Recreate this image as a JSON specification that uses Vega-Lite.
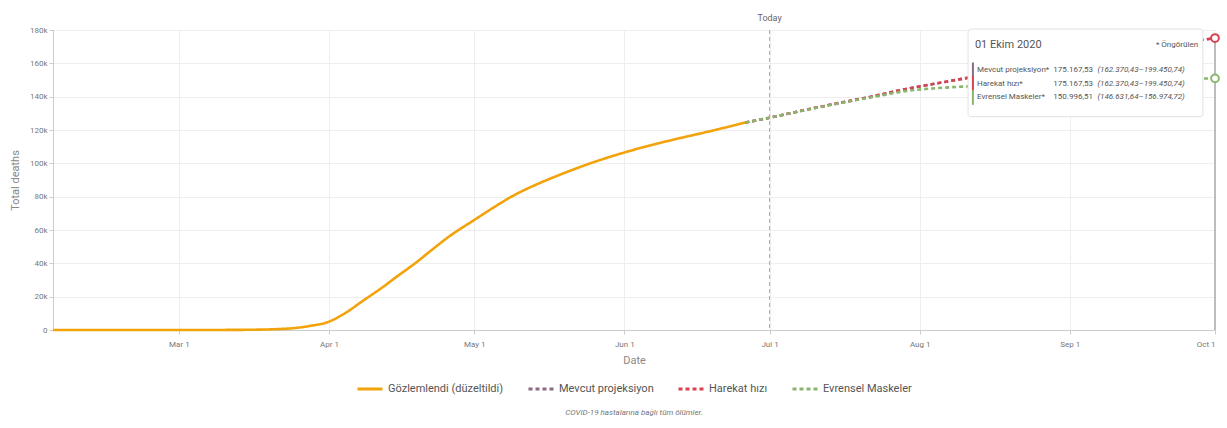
{
  "$schema": "https://vega.github.io/schema/vega-lite/v6.json",
  "width": 1162,
  "height": 300,
  "autosize": {"type": "none"},
  "padding": {"left": 53, "top": 30, "right": 12, "bottom": 98},
  "background": "white",
  "title": {"text": "COVID-19 hastalarına bağlı tüm ölümler.", "orient": "bottom", "anchor": "middle", "fontSize": 8, "fontStyle": "italic", "fontWeight": "normal", "color": "#777", "offset": 14, "font": "Roboto"},
  "config": {
    "font": "Roboto",
    "view": {"stroke": null},
    "axis": {"domainColor": "#ccc", "gridColor": "#eee", "tickColor": "#ccc", "labelColor": "#777", "labelFontSize": 8, "titleColor": "#888", "titleFontSize": 11, "titleFontWeight": "normal", "tickSize": 4, "labelOverlap": false},
    "axisY": {"tickCount": 10, "labelOverlap": false},
    "legend": {"layout": {"bottom": {"anchor": "middle"}}}
  },
  "datasets": {
    "one": [{}],
    "lines": [
      {"date": "2020-02-04", "deaths": 0, "series": "Gözlemlendi (düzeltildi)"},
      {"date": "2020-02-15", "deaths": 0, "series": "Gözlemlendi (düzeltildi)"},
      {"date": "2020-03-01", "deaths": 5, "series": "Gözlemlendi (düzeltildi)"},
      {"date": "2020-03-10", "deaths": 40, "series": "Gözlemlendi (düzeltildi)"},
      {"date": "2020-03-15", "deaths": 120, "series": "Gözlemlendi (düzeltildi)"},
      {"date": "2020-03-20", "deaths": 400, "series": "Gözlemlendi (düzeltildi)"},
      {"date": "2020-03-25", "deaths": 1200, "series": "Gözlemlendi (düzeltildi)"},
      {"date": "2020-03-28", "deaths": 2400, "series": "Gözlemlendi (düzeltildi)"},
      {"date": "2020-04-01", "deaths": 5000, "series": "Gözlemlendi (düzeltildi)"},
      {"date": "2020-04-04", "deaths": 9500, "series": "Gözlemlendi (düzeltildi)"},
      {"date": "2020-04-08", "deaths": 17500, "series": "Gözlemlendi (düzeltildi)"},
      {"date": "2020-04-12", "deaths": 25500, "series": "Gözlemlendi (düzeltildi)"},
      {"date": "2020-04-15", "deaths": 32000, "series": "Gözlemlendi (düzeltildi)"},
      {"date": "2020-04-19", "deaths": 40500, "series": "Gözlemlendi (düzeltildi)"},
      {"date": "2020-04-22", "deaths": 47500, "series": "Gözlemlendi (düzeltildi)"},
      {"date": "2020-04-26", "deaths": 56500, "series": "Gözlemlendi (düzeltildi)"},
      {"date": "2020-05-01", "deaths": 66000, "series": "Gözlemlendi (düzeltildi)"},
      {"date": "2020-05-05", "deaths": 73500, "series": "Gözlemlendi (düzeltildi)"},
      {"date": "2020-05-09", "deaths": 80500, "series": "Gözlemlendi (düzeltildi)"},
      {"date": "2020-05-14", "deaths": 87500, "series": "Gözlemlendi (düzeltildi)"},
      {"date": "2020-05-19", "deaths": 93500, "series": "Gözlemlendi (düzeltildi)"},
      {"date": "2020-05-24", "deaths": 99000, "series": "Gözlemlendi (düzeltildi)"},
      {"date": "2020-06-01", "deaths": 106500, "series": "Gözlemlendi (düzeltildi)"},
      {"date": "2020-06-06", "deaths": 110500, "series": "Gözlemlendi (düzeltildi)"},
      {"date": "2020-06-12", "deaths": 114800, "series": "Gözlemlendi (düzeltildi)"},
      {"date": "2020-06-18", "deaths": 118800, "series": "Gözlemlendi (düzeltildi)"},
      {"date": "2020-06-22", "deaths": 121600, "series": "Gözlemlendi (düzeltildi)"},
      {"date": "2020-06-26", "deaths": 124500, "series": "Gözlemlendi (düzeltildi)"},
      {"date": "2020-06-26", "deaths": 124500, "series": "Mevcut projeksiyon"},
      {"date": "2020-07-01", "deaths": 127400, "series": "Mevcut projeksiyon"},
      {"date": "2020-07-08", "deaths": 131800, "series": "Mevcut projeksiyon"},
      {"date": "2020-07-15", "deaths": 136000, "series": "Mevcut projeksiyon"},
      {"date": "2020-07-22", "deaths": 140000, "series": "Mevcut projeksiyon"},
      {"date": "2020-07-29", "deaths": 144500, "series": "Mevcut projeksiyon"},
      {"date": "2020-08-05", "deaths": 148200, "series": "Mevcut projeksiyon"},
      {"date": "2020-08-11", "deaths": 151300, "series": "Mevcut projeksiyon"},
      {"date": "2020-08-20", "deaths": 155500, "series": "Mevcut projeksiyon"},
      {"date": "2020-09-01", "deaths": 161500, "series": "Mevcut projeksiyon"},
      {"date": "2020-09-15", "deaths": 168200, "series": "Mevcut projeksiyon"},
      {"date": "2020-10-01", "deaths": 175168, "series": "Mevcut projeksiyon"},
      {"date": "2020-06-26", "deaths": 124500, "series": "Harekat hızı"},
      {"date": "2020-07-01", "deaths": 127400, "series": "Harekat hızı"},
      {"date": "2020-07-08", "deaths": 131800, "series": "Harekat hızı"},
      {"date": "2020-07-15", "deaths": 136000, "series": "Harekat hızı"},
      {"date": "2020-07-22", "deaths": 140000, "series": "Harekat hızı"},
      {"date": "2020-07-29", "deaths": 144500, "series": "Harekat hızı"},
      {"date": "2020-08-05", "deaths": 148200, "series": "Harekat hızı"},
      {"date": "2020-08-11", "deaths": 151300, "series": "Harekat hızı"},
      {"date": "2020-08-20", "deaths": 155500, "series": "Harekat hızı"},
      {"date": "2020-09-01", "deaths": 161500, "series": "Harekat hızı"},
      {"date": "2020-09-15", "deaths": 168200, "series": "Harekat hızı"},
      {"date": "2020-10-01", "deaths": 175168, "series": "Harekat hızı"},
      {"date": "2020-06-26", "deaths": 124500, "series": "Evrensel Maskeler"},
      {"date": "2020-07-01", "deaths": 127400, "series": "Evrensel Maskeler"},
      {"date": "2020-07-08", "deaths": 131700, "series": "Evrensel Maskeler"},
      {"date": "2020-07-15", "deaths": 135800, "series": "Evrensel Maskeler"},
      {"date": "2020-07-22", "deaths": 139600, "series": "Evrensel Maskeler"},
      {"date": "2020-07-29", "deaths": 143300, "series": "Evrensel Maskeler"},
      {"date": "2020-08-05", "deaths": 145200, "series": "Evrensel Maskeler"},
      {"date": "2020-08-11", "deaths": 146200, "series": "Evrensel Maskeler"},
      {"date": "2020-08-20", "deaths": 147500, "series": "Evrensel Maskeler"},
      {"date": "2020-09-01", "deaths": 148900, "series": "Evrensel Maskeler"},
      {"date": "2020-09-15", "deaths": 150100, "series": "Evrensel Maskeler"},
      {"date": "2020-10-01", "deaths": 150997, "series": "Evrensel Maskeler"}
    ]
  },
  "layer": [
    {
      "data": {"name": "lines"},
      "mark": {"type": "line", "strokeWidth": 2.6, "interpolate": "monotone"},
      "encoding": {
        "x": {"field": "date", "type": "temporal", "title": "Date",
          "scale": {"domain": [{"year": 2020, "month": 2, "date": 4}, {"year": 2020, "month": 10, "date": 1}]},
          "axis": {"format": "%b %-d", "values": [{"year": 2020, "month": 3, "date": 1}, {"year": 2020, "month": 4, "date": 1}, {"year": 2020, "month": 5, "date": 1}, {"year": 2020, "month": 6, "date": 1}, {"year": 2020, "month": 7, "date": 1}, {"year": 2020, "month": 8, "date": 1}, {"year": 2020, "month": 9, "date": 1}, {"year": 2020, "month": 10, "date": 1}], "labelPadding": 6, "titlePadding": 6}},
        "y": {"field": "deaths", "type": "quantitative", "title": "Total deaths",
          "scale": {"domain": [0, 180000], "nice": false},
          "axis": {"labelExpr": "datum.value == 0 ? '0' : (datum.value / 1000) + 'k'", "tickCount": 10, "values": [0, 20000, 40000, 60000, 80000, 100000, 120000, 140000, 160000, 180000], "titlePadding": 9}},
        "color": {"field": "series", "type": "nominal", "title": null,
          "scale": {"domain": ["Gözlemlendi (düzeltildi)", "Mevcut projeksiyon", "Harekat hızı", "Evrensel Maskeler"], "range": ["#f2a20a", "#8c6a82", "#d9424f", "#8ab56d"]},
          "legend": {"orient": "bottom", "direction": "horizontal", "symbolType": "stroke", "symbolStrokeWidth": 3, "symbolSize": 625, "labelFontSize": 11, "labelColor": "#555", "columnPadding": 18, "offset": 10, "labelFont": "Roboto"}},
        "strokeDash": {"field": "series", "type": "nominal", "title": null,
          "scale": {"domain": ["Gözlemlendi (düzeltildi)", "Mevcut projeksiyon", "Harekat hızı", "Evrensel Maskeler"], "range": [[1, 0], [4, 3], [4, 3], [4, 3]]}}
      }
    },
    {
      "data": {"name": "one"},
      "mark": {"type": "rule", "color": "#aaa", "strokeDash": [4, 3], "strokeWidth": 1},
      "encoding": {"x": {"datum": {"year": 2020, "month": 7, "date": 1}, "type": "temporal"}}
    },
    {
      "data": {"name": "one"},
      "mark": {"type": "text", "text": "Today", "fontSize": 9, "color": "#666", "baseline": "middle", "align": "center"},
      "encoding": {"x": {"datum": {"year": 2020, "month": 7, "date": 1}, "type": "temporal"}, "y": {"datum": 187500, "type": "quantitative"}}
    },
    {
      "data": {"name": "one"},
      "mark": {"type": "rule", "color": "#aaa", "strokeWidth": 1.5},
      "encoding": {"x": {"datum": {"year": 2020, "month": 10, "date": 1}, "type": "temporal"}, "y": {"datum": 0, "type": "quantitative"}, "y2": {"datum": 175168}}
    },
    {
      "data": {"name": "one"},
      "mark": {"type": "rect", "fill": "white", "stroke": "#e2e2e2", "strokeWidth": 1, "cornerRadius": 3},
      "encoding": {
        "x": {"datum": {"year": 2020, "month": 8, "date": 11}, "type": "temporal"},
        "x2": {"datum": {"year": 2020, "month": 9, "date": 28, "hours": 12}},
        "y": {"datum": 180600, "type": "quantitative"},
        "y2": {"datum": 128000}
      }
    },
    {
      "data": {"name": "one"},
      "mark": {"type": "text", "text": "01 Ekim 2020", "fontSize": 11, "color": "#555", "align": "left", "baseline": "middle"},
      "encoding": {"x": {"datum": {"year": 2020, "month": 8, "date": 12, "hours": 10}, "type": "temporal"}, "y": {"datum": 171000, "type": "quantitative"}}
    },
    {
      "data": {"name": "one"},
      "mark": {"type": "text", "text": "* Öngörülen", "fontSize": 8, "color": "#555", "align": "right", "baseline": "middle"},
      "encoding": {"x": {"datum": {"year": 2020, "month": 9, "date": 27, "hours": 12}, "type": "temporal"}, "y": {"datum": 171000, "type": "quantitative"}}
    },
    {
      "data": {"name": "one"},
      "mark": {"type": "rule", "color": "#8c6a82", "strokeWidth": 2},
      "encoding": {"x": {"datum": {"year": 2020, "month": 8, "date": 12}, "type": "temporal"}, "y": {"datum": 151500, "type": "quantitative"}, "y2": {"datum": 160500}}
    },
    {
      "data": {"name": "one"},
      "mark": {"type": "rule", "color": "#d9424f", "strokeWidth": 2},
      "encoding": {"x": {"datum": {"year": 2020, "month": 8, "date": 12}, "type": "temporal"}, "y": {"datum": 143300, "type": "quantitative"}, "y2": {"datum": 152300}}
    },
    {
      "data": {"name": "one"},
      "mark": {"type": "rule", "color": "#8ab56d", "strokeWidth": 2},
      "encoding": {"x": {"datum": {"year": 2020, "month": 8, "date": 12}, "type": "temporal"}, "y": {"datum": 135100, "type": "quantitative"}, "y2": {"datum": 144100}}
    },
    {
      "data": {"name": "one"},
      "mark": {"type": "text", "text": "Mevcut projeksiyon*", "fontSize": 8, "color": "#555", "align": "left", "baseline": "middle"},
      "encoding": {"x": {"datum": {"year": 2020, "month": 8, "date": 12, "hours": 20}, "type": "temporal"}, "y": {"datum": 156000, "type": "quantitative"}}
    },
    {
      "data": {"name": "one"},
      "mark": {"type": "text", "text": "Harekat hızı*", "fontSize": 8, "color": "#555", "align": "left", "baseline": "middle"},
      "encoding": {"x": {"datum": {"year": 2020, "month": 8, "date": 12, "hours": 20}, "type": "temporal"}, "y": {"datum": 147800, "type": "quantitative"}}
    },
    {
      "data": {"name": "one"},
      "mark": {"type": "text", "text": "Evrensel Maskeler*", "fontSize": 8, "color": "#555", "align": "left", "baseline": "middle"},
      "encoding": {"x": {"datum": {"year": 2020, "month": 8, "date": 12, "hours": 20}, "type": "temporal"}, "y": {"datum": 139600, "type": "quantitative"}}
    },
    {
      "data": {"name": "one"},
      "mark": {"type": "text", "text": "175.167,53", "fontSize": 8, "color": "#555", "align": "right", "baseline": "middle"},
      "encoding": {"x": {"datum": {"year": 2020, "month": 9, "date": 5, "hours": 19}, "type": "temporal"}, "y": {"datum": 156000, "type": "quantitative"}}
    },
    {
      "data": {"name": "one"},
      "mark": {"type": "text", "text": "175.167,53", "fontSize": 8, "color": "#555", "align": "right", "baseline": "middle"},
      "encoding": {"x": {"datum": {"year": 2020, "month": 9, "date": 5, "hours": 19}, "type": "temporal"}, "y": {"datum": 147800, "type": "quantitative"}}
    },
    {
      "data": {"name": "one"},
      "mark": {"type": "text", "text": "150.996,51", "fontSize": 8, "color": "#555", "align": "right", "baseline": "middle"},
      "encoding": {"x": {"datum": {"year": 2020, "month": 9, "date": 5, "hours": 19}, "type": "temporal"}, "y": {"datum": 139600, "type": "quantitative"}}
    },
    {
      "data": {"name": "one"},
      "mark": {"type": "text", "text": "(162.370,43–199.450,74)", "fontSize": 8, "fontStyle": "italic", "color": "#555", "align": "left", "baseline": "middle"},
      "encoding": {"x": {"datum": {"year": 2020, "month": 9, "date": 6, "hours": 17}, "type": "temporal"}, "y": {"datum": 156000, "type": "quantitative"}}
    },
    {
      "data": {"name": "one"},
      "mark": {"type": "text", "text": "(162.370,43–199.450,74)", "fontSize": 8, "fontStyle": "italic", "color": "#555", "align": "left", "baseline": "middle"},
      "encoding": {"x": {"datum": {"year": 2020, "month": 9, "date": 6, "hours": 17}, "type": "temporal"}, "y": {"datum": 147800, "type": "quantitative"}}
    },
    {
      "data": {"name": "one"},
      "mark": {"type": "text", "text": "(146.631,64–156.974,72)", "fontSize": 8, "fontStyle": "italic", "color": "#555", "align": "left", "baseline": "middle"},
      "encoding": {"x": {"datum": {"year": 2020, "month": 9, "date": 6, "hours": 17}, "type": "temporal"}, "y": {"datum": 139600, "type": "quantitative"}}
    },
    {
      "data": {"name": "lines"},
      "transform": [{"filter": {"and": [{"field": "series", "equal": "Evrensel Maskeler"}, {"field": "date", "equal": {"year": 2020, "month": 10, "date": 1}}]}}],
      "mark": {"type": "point", "shape": "circle", "filled": false, "fill": "white", "fillOpacity": 1, "stroke": "#8ab56d", "strokeWidth": 2, "size": 60, "opacity": 1},
      "encoding": {"x": {"field": "date", "type": "temporal"}, "y": {"field": "deaths", "type": "quantitative"}}
    },
    {
      "data": {"name": "lines"},
      "transform": [{"filter": {"and": [{"field": "series", "equal": "Harekat hızı"}, {"field": "date", "equal": {"year": 2020, "month": 10, "date": 1}}]}}],
      "mark": {"type": "point", "shape": "circle", "filled": false, "fill": "white", "fillOpacity": 1, "stroke": "#d9424f", "strokeWidth": 2, "size": 60, "opacity": 1},
      "encoding": {"x": {"field": "date", "type": "temporal"}, "y": {"field": "deaths", "type": "quantitative"}}
    }
  ]
}
